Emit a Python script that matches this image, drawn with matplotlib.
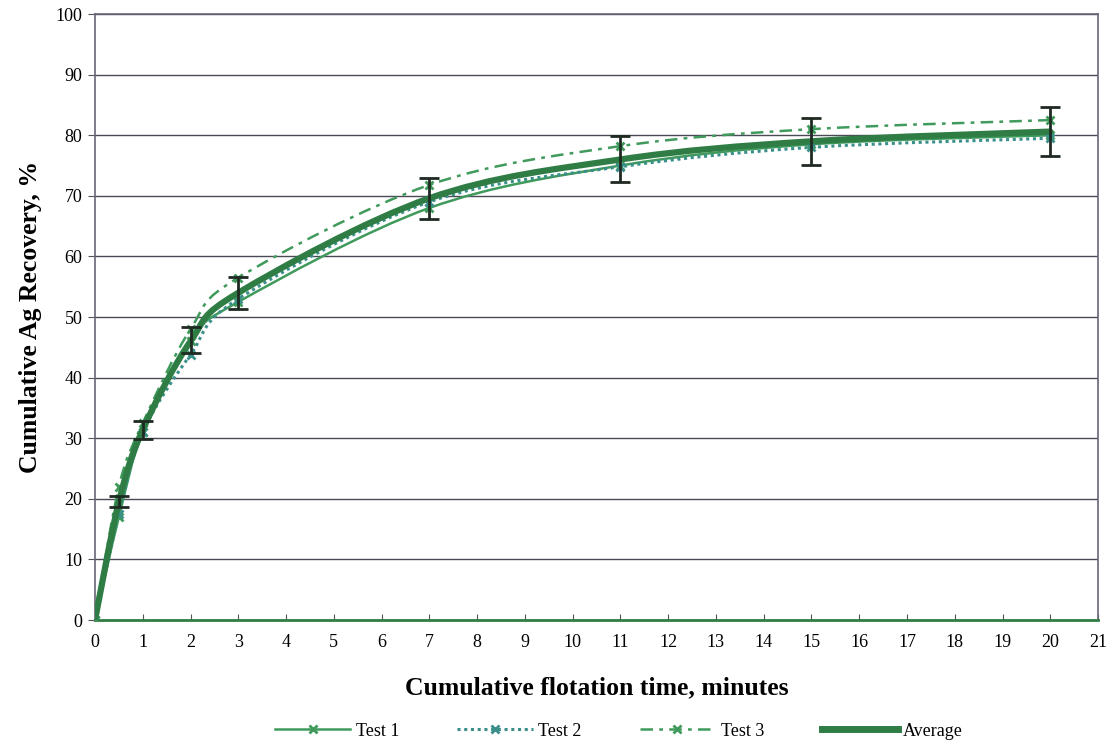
import numpy as np
import matplotlib
matplotlib.use("Agg")
import matplotlib.pyplot as plt
from matplotlib.path import Path
from matplotlib.patches import PathPatch
from matplotlib.lines import Line2D

# ---------------- data ----------------
time_min = [0, 0.5, 1, 2, 3, 7, 11, 15, 20]
test1 = [0, 17.0, 31.0, 46.0, 52.5, 68.0, 75.0, 78.5, 80.0]
test2 = [0, 17.5, 31.0, 43.8, 53.0, 69.0, 74.8, 78.0, 79.5]
test3 = [0, 22.0, 32.5, 48.0, 56.5, 71.8, 78.2, 81.0, 82.5]
average = [0, 19.5, 31.4, 46.0, 54.0, 69.6, 76.0, 79.0, 80.6]
err_lo = [0, 0.9, 1.6, 2.0, 2.6, 3.4, 3.7, 3.9, 4.0]
err_hi = [0, 1.0, 1.5, 2.4, 2.6, 3.3, 3.9, 3.8, 4.1]

XTICKS = list(range(0, 22))
YTICKS = list(range(0, 101, 10))

C_T1 = "#3f9a5c"
C_T2 = "#3a8f8a"
C_T3 = "#3f9a5c"
C_AVG = "#2f7d45"
C_ERR = "#1f2a22"

plt.rcParams["font.family"] = ["Liberation Serif", "DejaVu Serif"]


def smooth_path(x, y):
    """Excel-style smoothed line: Catmull-Rom segments as cubic Bezier."""
    p = np.column_stack([x, y]).astype(float)
    n = len(p)
    verts = [p[0]]
    codes = [Path.MOVETO]
    for i in range(n - 1):
        p0 = p[i - 1] if i > 0 else p[i]
        p1, p2 = p[i], p[i + 1]
        p3 = p[i + 2] if i + 2 < n else p[i + 1]
        c1 = p1 + (p2 - p0) / 6.0
        c2 = p2 - (p3 - p1) / 6.0
        verts += [c1, c2, p2]
        codes += [Path.CURVE4] * 3
    return Path(verts, codes)


fig = plt.figure(figsize=(11.15, 7.5), dpi=100)
ax = fig.add_axes([0.0852, 0.1733, 0.8996, 0.808])

for yt in YTICKS[1:]:
    ax.axhline(yt, color="#4a4a55", lw=1.0, zorder=1)

series = [
    (test1, C_T1, "-", 1.8, "Test 1"),
    (test2, C_T2, (0, (1, 1.2)), 2.2, "Test 2"),
    (test3, C_T3, (0, (5, 2.5, 1.5, 2.5)), 1.8, "Test 3"),
]
for vals, col, ls, lw, lab in series:
    ax.add_patch(PathPatch(smooth_path(time_min, vals), fill=False, edgecolor=col,
                           lw=lw, linestyle=ls, zorder=3))
    ax.plot(time_min, vals, ls="none", marker="x", ms=6, mew=2, color=col, zorder=4)

ax.add_patch(PathPatch(smooth_path(time_min, average), fill=False, edgecolor=C_AVG,
                       lw=4.5, zorder=5, capstyle="round"))
ax.errorbar(time_min[1:], average[1:], yerr=[err_lo[1:], err_hi[1:]], fmt="none",
            ecolor=C_ERR, elinewidth=2, capsize=7, capthick=2, zorder=6)

ax.set_xlim(0, 21)
ax.set_ylim(0, 100)
ax.set_xticks(XTICKS)
ax.set_yticks(YTICKS)
ax.tick_params(axis="both", labelsize=13, color="#555555")
ax.tick_params(axis="x", direction="in", length=4, pad=10)
ax.tick_params(axis="y", direction="out", length=5, pad=4)
for sp in ax.spines.values():
    sp.set_color("#666677")
    sp.set_linewidth(1.2)
ax.spines["bottom"].set_color(C_AVG)
ax.spines["bottom"].set_linewidth(2)

ax.set_xlabel("Cumulative flotation time, minutes", fontsize=18.5, fontweight="bold", labelpad=18)
ax.set_ylabel("Cumulative Ag Recovery, %", fontsize=18.5, fontweight="bold", labelpad=10)

handles = [
    Line2D([], [], color=C_T1, lw=1.8, marker="x", ms=6, mew=2),
    Line2D([], [], color=C_T2, lw=2.2, ls=(0, (1, 1.2)), marker="x", ms=6, mew=2),
    Line2D([], [], color=C_T3, lw=1.8, ls=(0, (5, 2.5, 1.5, 2.5)), marker="x", ms=6, mew=2),
    Line2D([], [], color=C_AVG, lw=5),
]
fig.legend(handles, ["Test 1", "Test 2", "Test 3", "Average"], loc="lower center",
           ncol=4, frameon=False, fontsize=13, bbox_to_anchor=(0.555, -0.008),
           handlelength=4.2, columnspacing=3.2, handletextpad=0.3)

fig.savefig("out.png", dpi=100)
